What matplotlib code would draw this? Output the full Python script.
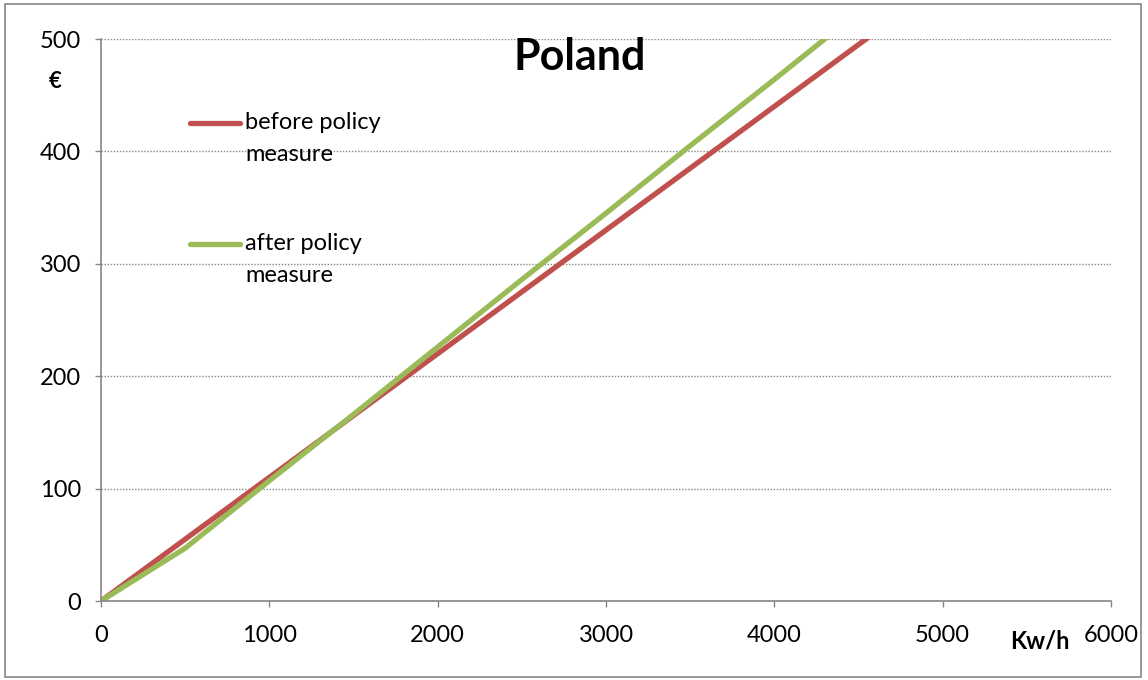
import matplotlib
matplotlib.use("Agg")
import matplotlib.pyplot as plt
from matplotlib.patches import Rectangle
from matplotlib.lines import Line2D

# Data
consumption_kwh = [0, 500, 1000, 1500, 2000, 2500, 3000, 3500, 4000, 4500, 5000]
cost_before = [0, 55, 110, 165, 220, 275, 330, 385, 440, 495, 550]
cost_after = [0, 47, 107, 166, 226, 286, 345, 405, 464, 524, 584]
series_labels = ["before policy\nmeasure", "after policy\nmeasure"]
x_ticks = [0, 1000, 2000, 3000, 4000, 5000, 6000]
y_ticks = [0, 100, 200, 300, 400, 500]
title = "Poland"

RED = "#C0504D"
GREEN = "#9BBB59"
GRAY = "#868686"
FONT = "Lato"

plt.rcParams["font.family"] = [FONT, "DejaVu Sans"]

fig = plt.figure(figsize=(11.48, 6.8), dpi=100)
fig.patch.set_facecolor("white")
fig.add_artist(Rectangle((5 / 1148, 3 / 680), 1136 / 1148, 673 / 680,
                         transform=fig.transFigure, fill=False,
                         edgecolor=GRAY, linewidth=1.2))

ax = fig.add_axes([101 / 1148, (680 - 601) / 680, 1010 / 1148, 562 / 680])
ax.plot(consumption_kwh, cost_before, color=RED, linewidth=3.8, solid_capstyle="butt")
ax.plot(consumption_kwh, cost_after, color=GREEN, linewidth=3.8, solid_capstyle="butt")

ax.set_xlim(0, 6000)
ax.set_ylim(0, 500)
ax.set_xticks(x_ticks)
ax.set_yticks(y_ticks)
ax.tick_params(axis="both", direction="out", length=4.5, width=1.0, color=GRAY,
               labelsize=17, labelcolor="black")
ax.tick_params(axis="y", pad=10)
ax.tick_params(axis="x", pad=13)
for s in ["top", "right"]:
    ax.spines[s].set_visible(False)
for s in ["left", "bottom"]:
    ax.spines[s].set_color(GRAY)
    ax.spines[s].set_linewidth(1.2)
ax.yaxis.grid(True, linestyle=(0, (1, 1.2)), color=GRAY, linewidth=1.0)
ax.set_axisbelow(True)

# Title
ax.text((580 - 101) / 1010, (601 - 57) / 562, title, transform=ax.transAxes,
        ha="center", va="center", fontsize=31, fontweight="bold")

# Axis unit labels
fig.text(55 / 1148, 1 - 82 / 680, "€", ha="center", va="center",
         fontsize=16, fontweight="bold")
fig.text(1040 / 1148, 1 - 641 / 680, "Kw/h", ha="center", va="center",
         fontsize=17, fontweight="bold")

# Legend (manual)
for color, label, ypix in [(RED, series_labels[0], 123), (GREEN, series_labels[1], 244)]:
    yy = (601 - ypix) / 562
    ax.add_line(Line2D([(190 - 101) / 1010, (240 - 101) / 1010], [yy, yy],
                       transform=ax.transAxes, color=color, linewidth=3.8,
                       solid_capstyle="round"))
    ax.text((245 - 101) / 1010, (601 - (ypix - 11)) / 562, label,
            transform=ax.transAxes, ha="left", va="top",
            fontsize=17, linespacing=1.62)

fig.savefig("out.png", dpi=100)
